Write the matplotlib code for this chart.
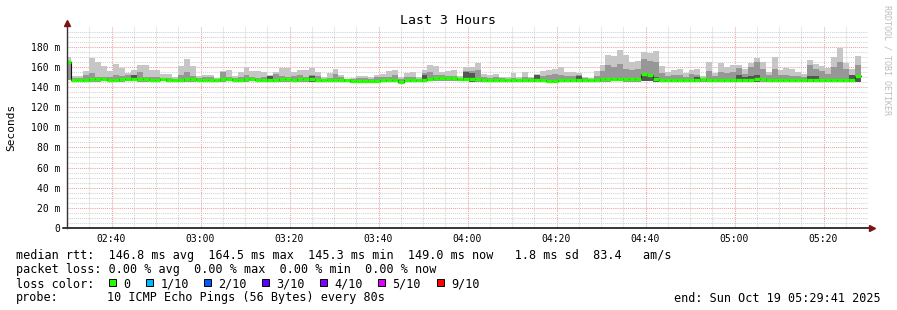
import matplotlib
matplotlib.use("Agg")
import matplotlib.pyplot as plt
from matplotlib.patches import Rectangle
import numpy as np

plt.rcParams['font.family'] = ['DejaVu Sans Mono']

# smoke data, one value per 80 s step (ms)
smoke_max = [170, 151, 151, 156, 168.5, 165, 161, 156, 163, 158.5,
             153.5, 157, 161.5, 161.5, 157, 157, 153, 153, 150, 161,
             167.5, 161, 151, 152, 152, 148.5, 156, 157, 151, 155,
             160, 156, 156, 154.5, 152, 154.5, 158.5, 158.5, 155, 157,
             157, 158.5, 155, 149.5, 153.5, 157.5, 152, 148, 148.5, 151,
             151, 149.5, 152, 152.5, 156, 157, 149.5, 153.5, 155, 149.5,
             157, 162, 161, 155, 156, 157, 151, 160, 160, 163.5,
             152.5, 152, 153, 150, 149.5, 153.5, 150, 154.5, 150, 152.5,
             156, 157, 158, 159.5, 154.5, 155, 153.5, 150, 148.5, 156,
             162, 172, 171, 177, 172, 165, 166, 175, 173.5, 176,
             161, 155, 157, 157.5, 153.5, 157, 157.5, 151, 165, 154,
             163.5, 160, 162, 162, 157.5, 163.5, 168.5, 165, 155, 170,
             157, 158.5, 158, 155, 152.5, 167, 163, 161, 158.5, 170,
             178.5, 164, 157.5, 171]

smoke_mid = [166, 149, 149, 152, 154, 150, 150, 150, 152, 151,
             152, 151, 155, 150, 150, 150, 149, 149, 148, 152,
             155, 151, 149, 150, 150, 148, 155, 150, 149, 150,
             152, 150, 149, 150, 150, 153, 151, 150, 151, 152,
             150, 152, 151, 148, 149, 153, 150, 147.5, 148, 149,
             149, 148, 150, 150, 150, 152, 148, 150, 150, 148,
             154, 155, 152, 152, 151, 151, 149, 156, 156, 157,
             150, 149, 150, 149, 148, 149, 148, 150, 149, 151,
             151, 152, 153, 152, 151, 151, 152, 149, 148, 151,
             156, 162, 160, 163, 158, 157, 158, 168, 166, 165,
             154, 151, 152, 152, 150, 153, 152, 149, 156, 151,
             155, 154, 155, 159, 153, 160, 165, 158, 152, 158,
             152, 152, 151, 151, 150, 162, 158, 156, 153, 160,
             165, 158, 152, 162]

smoke_min = [147, 145.5, 145.5, 144.5, 144.5, 145, 145.5, 145.5, 145.5, 145,
             145.5, 145.5, 145, 145, 145.5, 145.5, 145.5, 145, 145.5, 145,
             144.5, 144.5, 145.5, 145.5, 145.5, 145, 145, 145.5, 145.5, 145,
             145, 145.5, 145.5, 145.5, 144.5, 145, 145, 145, 145.5, 145,
             145, 145, 145, 145, 145.5, 145.5, 145.5, 144.5, 144, 144.5,
             144.5, 144.5, 144.5, 145, 145, 145, 144.5, 145, 145, 144.5,
             145, 145.5, 146, 146, 146, 146, 145.5, 145.5, 145, 145,
             145, 145, 145, 145, 144.5, 145, 144.5, 145, 144.5, 145,
             145, 144.5, 144.5, 144.5, 145, 145, 145, 144.5, 145, 145,
             145, 145, 145.5, 145.5, 145, 145, 145, 145.5, 145.5, 145,
             145, 145, 144.5, 144.5, 144.5, 145, 144.5, 145, 145, 145,
             145, 144.5, 144.5, 145, 145, 145, 145, 145, 145, 145,
             145, 145, 145, 144.5, 145, 144.5, 144.5, 144.5, 145, 144.5,
             144.5, 145, 145, 145]

median = [164.5, 147, 147, 147, 147.5, 147.5, 147.5, 147, 147, 147.5,
          148, 148, 147.5, 147.5, 147, 147, 147.5, 147, 147, 147,
          147.5, 147.5, 147, 147, 147, 146.5, 147.5, 147.5, 147, 147,
          147.5, 147.5, 147, 147, 146.5, 147, 147.5, 147.5, 147, 147.5,
          147.5, 147.5, 147, 146.5, 147, 147, 147, 146.5, 145.5, 145.5,
          145.5, 145.5, 145.5, 146.5, 146.5, 146.5, 145.3, 146.5, 147, 146.5,
          147, 148, 148.5, 148.5, 148.5, 148.5, 148, 148, 147.5, 147.5,
          147, 147, 147, 147, 146.5, 147, 146.5, 147, 146.5, 147,
          146.5, 145.5, 145.5, 146.5, 147, 147, 147, 146.5, 146.5, 147,
          147.5, 147.5, 148, 148, 147.5, 147.5, 147.5, 152.5, 151.5, 147.5,
          147, 147, 146.5, 146.5, 146.5, 147, 146.5, 147.5, 147, 147,
          147, 146.5, 146.5, 147, 147, 147, 147.5, 147.5, 147, 147,
          147, 147, 147, 147, 147, 146.5, 146.5, 146.5, 146.5, 146.5,
          147, 147, 147, 150.5]

# steps with a dark inner smoke band, and the top of that band
dark_steps = [11, 34, 41, 47, 60, 67, 68, 79, 86, 87, 97, 98, 99, 106,
              113, 114, 115, 116, 125, 126, 132, 133]
dark_tops = [152, 150.5, 151, 147.5, 152, 155, 154, 151.5, 151, 148,
             151.5, 150.5, 150, 150, 152, 150, 151, 152, 151, 151, 151.5, 149.5]

loss_labels = ['0', '1/10', '2/10', '3/10', '4/10', '5/10', '9/10']
loss_colors = ['#26ff00', '#00b8ff', '#0059ff', '#5e00ff', '#7e00ff', '#dd00ff', '#ff0000']

W, H = 897, 310
step = 80 / 60.0
start = 149 + 40 / 60.0  # 02:29:40, minutes after midnight
x_left = start + np.arange(len(smoke_max)) * step

fig = plt.figure(figsize=(W / 100, H / 100), dpi=100)
ax = fig.add_axes([67 / W, 82 / H, 801 / W, 201.5 / H])

lo = np.array(smoke_min)
ax.bar(x_left, np.array(smoke_max) - lo, width=step, bottom=lo, align='edge',
       color='#c6c6c6', linewidth=0, zorder=1)
ax.bar(x_left, np.array(smoke_mid) - lo, width=step, bottom=lo, align='edge',
       color='#979797', linewidth=0, zorder=1.1)
d_lo = lo[dark_steps]
ax.bar(x_left[dark_steps], np.array(dark_tops) - d_lo, width=step, bottom=d_lo,
       align='edge', color='#555555', linewidth=0, zorder=1.2)

edges = np.append(x_left, x_left[-1] + step)
ax.step(edges, median + [median[-1]], where='post', color='#111111', lw=0.8, zorder=1.5)
ax.hlines(median, x_left, x_left + step, color=loss_colors[0], lw=2.4, zorder=3)

ax.set_xlim(150, 330)
ax.set_ylim(0, 200)

xt = np.arange(160, 321, 20)
ax.set_xticks(xt)
ax.set_xticklabels([f"{int(m // 60):02d}:{int(m % 60):02d}" for m in xt], fontsize=7)
ax.set_xticks(np.arange(150, 331, 5), minor=True)
yt = np.arange(0, 181, 20)
ax.set_yticks(yt)
ax.set_yticklabels(['0'] + [f"{v} m" for v in yt[1:]], fontsize=7)
ax.set_yticks(np.arange(5, 200, 5), minor=True)
ax.tick_params(which='both', length=0)
ax.tick_params(axis='x', pad=4.5)
ax.tick_params(axis='y', pad=5)

ax.set_axisbelow(True)
ax.grid(which='minor', color='#d2d2d2', lw=0.75, ls=(0, (1, 1)))
ax.grid(which='major', color='#f0a0a0', lw=0.75, ls=(0, (1, 1)))

for s in ax.spines.values():
    s.set_visible(False)
ax.plot([149.2, 330.3], [0, 0], color='black', lw=1.1, clip_on=False, zorder=4)
ax.plot([150, 150], [0, 203], color='#333333', lw=1.0, clip_on=False, zorder=4)
ax.plot([150], [203.5], marker='^', ms=4.5, color='#7a1414', clip_on=False, zorder=5)
ax.plot([330.9], [0], marker='>', ms=4.5, color='#7a1414', clip_on=False, zorder=5)

fig.text(448 / W, 1 - 20 / H, "Last 3 Hours", ha='center', va='center', fontsize=9.5)
fig.text(11 / W, 1 - 127 / H, "Seconds", rotation=90, ha='center', va='center', fontsize=8)
fig.text(887 / W, 1 - 60 / H, "RRDTOOL / TOBI OETIKER", rotation=270, ha='center',
         va='center', fontsize=6, color='#bdbdbd')

fs = 8.5
fig.text(16 / W, 1 - 254 / H,
         "median rtt:  146.8 ms avg  164.5 ms max  145.3 ms min  149.0 ms now   1.8 ms sd  83.4   am/s",
         va='center_baseline', fontsize=fs)
fig.text(16 / W, 1 - 268.5 / H,
         "packet loss: 0.00 % avg  0.00 % max  0.00 % min  0.00 % now",
         va='center_baseline', fontsize=fs)
fig.text(16 / W, 1 - 282.5 / H, "loss color:", va='center_baseline', fontsize=fs)
sq_x = [108.5, 146, 203.5, 261.5, 320, 378, 436.5]
for xs, lab, col in zip(sq_x, loss_labels, loss_colors):
    fig.add_artist(Rectangle((xs / W, 1 - 286 / H), 7 / W, 7 / H, transform=fig.transFigure,
                             facecolor=col, edgecolor='#000000', lw=0.7))
    fig.text((xs + 14.5) / W, 1 - 282.5 / H, lab, va='center_baseline', fontsize=fs)
fig.text(16 / W, 1 - 296.5 / H, "probe:", va='center_baseline', fontsize=fs)
fig.text(107 / W, 1 - 296.5 / H, "10 ICMP Echo Pings (56 Bytes) every 80s",
         va='center_baseline', fontsize=fs)
fig.text(881 / W, 1 - 296.5 / H, "end: Sun Oct 19 05:29:41 2025", ha='right',
         va='center_baseline', fontsize=fs)

fig.savefig("out.png", dpi=100, facecolor='white')
